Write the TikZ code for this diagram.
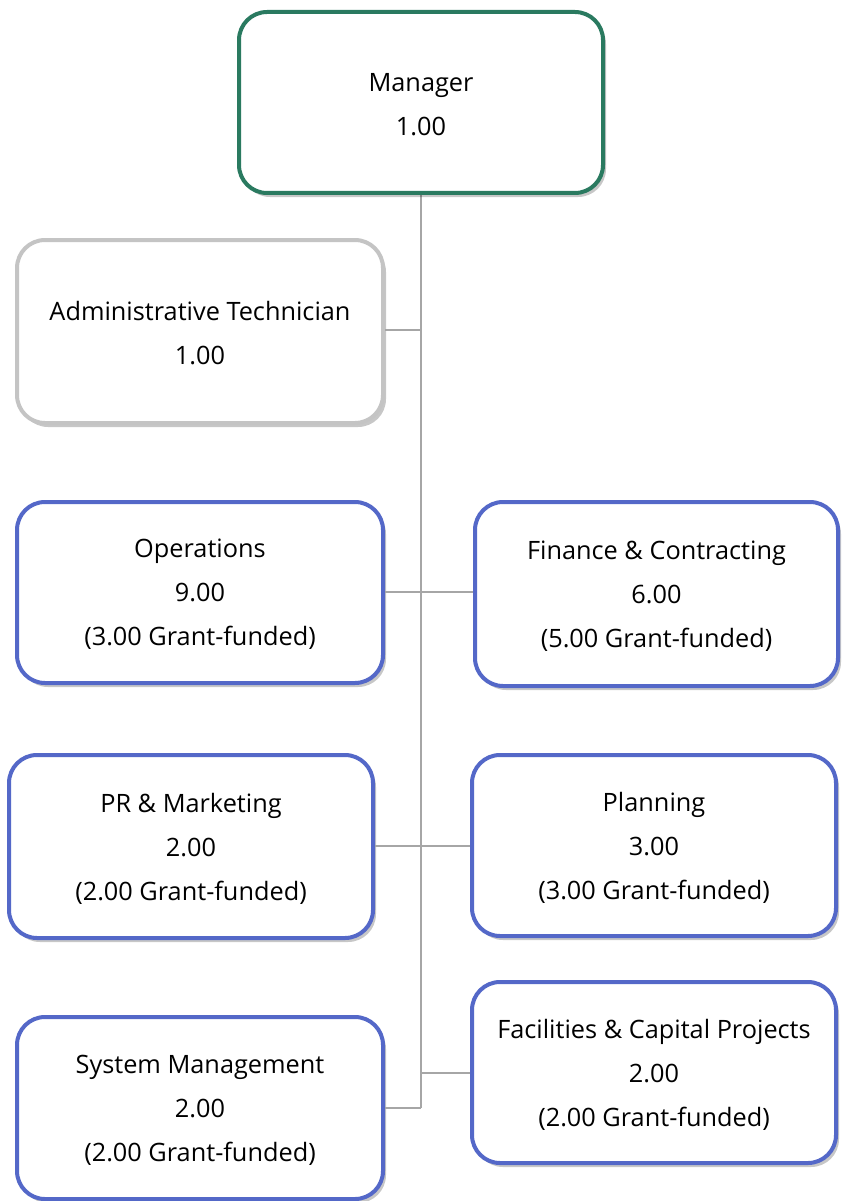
\documentclass[tikz,border=0pt]{standalone}
\usepackage{fontspec}
\setmainfont{Open Sans}
\usetikzlibrary{shadows}
\definecolor{mgrgreen}{HTML}{2A7A60}
\definecolor{admgray}{HTML}{C4C4C4}
\definecolor{unitblue}{HTML}{5468C8}
\definecolor{linegray}{HTML}{A6A6A6}
\tikzset{
  box/.style={draw, line width=4pt, fill=white, rounded corners=28pt, inner sep=0pt,
    drop shadow={shadow xshift=3pt, shadow yshift=-4pt, fill=black, opacity=0.22}},
  mgrbox/.style={box, draw=mgrgreen},
  admbox/.style={box, draw=admgray},
  unitbox/.style={box, draw=unitblue},
  txt/.style={align=center, font=\fontsize{25.3}{44}\selectfont, text=black, inner sep=0pt, yshift=-2pt},
  conn/.style={draw=linegray, line width=2pt}
}
\begin{document}
\begin{tikzpicture}[x=1pt,y=-1pt]
\useasboundingbox (0,0) rectangle (843,1201);
\coordinate (top) at (421,195);
\coordinate (jA) at (421,330);
\coordinate (jO) at (421,592);
\coordinate (jP) at (421,846);
\coordinate (jF) at (421,1073);
\coordinate (jS) at (421,1108);
\draw[conn] (top) -- (jS);
\node[mgrbox, minimum width=364pt, minimum height=181pt] (mgr) at (421,102.5) {};
\node[admbox, minimum width=366pt, minimum height=183pt] (adm) at (200,331.5) {};
\node[unitbox, minimum width=366pt, minimum height=181pt] (ops) at (200,592.5) {};
\node[unitbox, minimum width=363pt, minimum height=184pt] (fin) at (656.5,594) {};
\node[unitbox, minimum width=364pt, minimum height=183pt] (pr) at (191,846.5) {};
\node[unitbox, minimum width=364pt, minimum height=181pt] (pla) at (654,845.5) {};
\node[unitbox, minimum width=364pt, minimum height=181pt] (fac) at (654,1072.5) {};
\node[unitbox, minimum width=366pt, minimum height=182pt] (sys) at (200,1108) {};
\node[txt] (mgrT) at (mgr.center) {Manager\\1.00};
\node[txt] (admT) at (adm.center) {Administrative Technician\\1.00};
\node[txt] (opsT) at (ops.center) {Operations\\9.00\\(3.00 Grant-funded)};
\node[txt] (finT) at (fin.center) {Finance \& Contracting\\6.00\\(5.00 Grant-funded)};
\node[txt] (prT) at (pr.center) {PR \& Marketing\\2.00\\(2.00 Grant-funded)};
\node[txt] (plaT) at (pla.center) {Planning\\3.00\\(3.00 Grant-funded)};
\node[txt] (facT) at (fac.center) {Facilities \& Capital Projects\\2.00\\(2.00 Grant-funded)};
\node[txt] (sysT) at (sys.center) {System Management\\2.00\\(2.00 Grant-funded)};
\draw[conn] (jA -| adm.east) -- (jA);
\draw[conn] (jO -| ops.east) -- (jO) -- (jO -| fin.west);
\draw[conn] (jP -| pr.east) -- (jP) -- (jP -| pla.west);
\draw[conn] (jF) -- (jF -| fac.west);
\draw[conn] (jS -| sys.east) -- (jS);
\end{tikzpicture}
\end{document}
